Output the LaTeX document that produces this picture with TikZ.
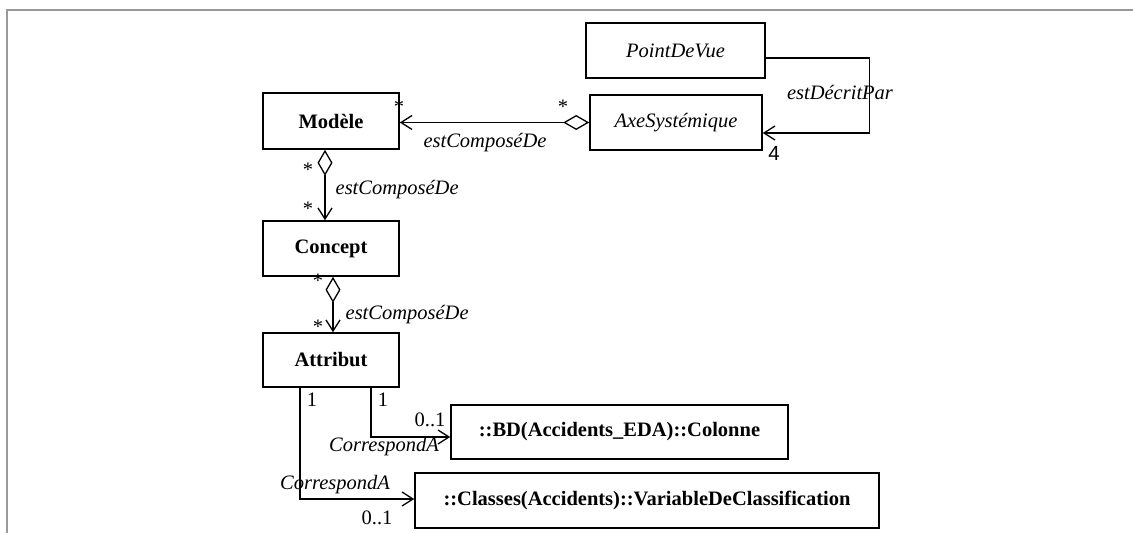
\documentclass[tikz,border=0pt]{standalone}
\usepackage{fontspec}
\setmainfont{Liberation Serif}
\setsansfont{Liberation Sans}
\usetikzlibrary{arrows.meta}
\newcommand{\taille}{\fontsize{20.5}{24}\selectfont}

\begin{document}
\begin{tikzpicture}[x=1pt, y=-1pt, line width=1.3pt,
  classe/.style={draw, line width=1.6pt, inner sep=0pt, font=\taille\bfseries},
  abstraite/.style={classe, font=\taille\itshape},
  role/.style={font=\taille\itshape, inner sep=0pt},
  mult/.style={font=\taille, inner sep=0pt},
  agreg/.style={{Diamond[open, length=26pt, width=15pt]}-{Straight Barb[length=11pt, width=14pt]}},
  nav/.style={-{Straight Barb[length=11pt, width=14pt]}}]
  \useasboundingbox (0,0) rectangle (1133,533);
  % cadre
  \draw[gray!80, line width=2pt] (7,533) -- (7,10) -- (1133,10);

  % classes
  \node[classe, minimum width=136pt, minimum height=56pt] (modele) at (331,121) {Modèle};
  \node[classe, minimum width=136pt, minimum height=55pt] (concept) at (331,248.5) {Concept};
  \node[classe, minimum width=136pt, minimum height=54pt] (attribut) at (331,360) {Attribut};
  \node[abstraite, minimum width=179pt, minimum height=55pt] (pdv) at (675.5,50.5) {PointDeVue};
  \node[abstraite, minimum width=172pt, minimum height=55pt] (axe) at (676,122.5) {AxeSystémique};
  \node[classe, minimum width=337pt, minimum height=54pt] (colonne) at (619.5,432) {::BD(Accidents\_EDA)::Colonne};
  \node[classe, minimum width=464pt, minimum height=55pt] (vdc) at (647,500.5) {::Classes(Accidents)::VariableDeClassification};

  % Modele -- AxeSystemique
  \draw[agreg] (axe.west) -- (axe.west -| modele.east);
  \node[mult] (m1) at (399,107) {*};
  \node[mult] (m2) at (563,107) {*};
  \node[role] (r1) at (485,143) {estComposéDe};

  % PointDeVue -- AxeSystemique
  \draw[nav] ([yshift=-7.5pt]pdv.east) -- ++(104,0) |- ([yshift=-10.5pt]axe.east);
  \node[role] (r2) at (840,92) {estDécritPar};
  \node[mult, font=\taille\sffamily] (m3) at (774,153) {4};

  % Modele -- Concept
  \draw[agreg] ([xshift=-6pt]modele.south) -- ([xshift=-6pt]concept.north);
  \node[mult] (m4) at (308,170) {*};
  \node[mult] (m5) at (308,209) {*};
  \node[role, anchor=west] (r3) at (335,190) {estComposéDe};

  % Concept -- Attribut
  \draw[agreg] ([xshift=2pt]concept.south) -- ([xshift=2pt]attribut.north);
  \node[mult] (m6) at (318,281) {*};
  \node[mult] (m7) at (318,327) {*};
  \node[role, anchor=west] (r4) at (345,315) {estComposéDe};

  % Attribut -- Colonne
  \draw[nav] ([xshift=40pt]attribut.south) |- ([yshift=-5pt]colonne.west);
  \node[mult] (m8) at (383,400) {1};
  \node[mult] (m9) at (430,420) {0..1};
  \node[role] (r5) at (384,447) {CorrespondA};

  % Attribut -- VariableDeClassification
  \draw[nav] ([xshift=-31pt]attribut.south) |- ([yshift=1.5pt]vdc.west);
  \node[mult] (m10) at (312,400) {1};
  \node[role] (r6) at (335,485) {CorrespondA};
  \node[mult] (m11) at (377,518) {0..1};
\end{tikzpicture}
\end{document}
